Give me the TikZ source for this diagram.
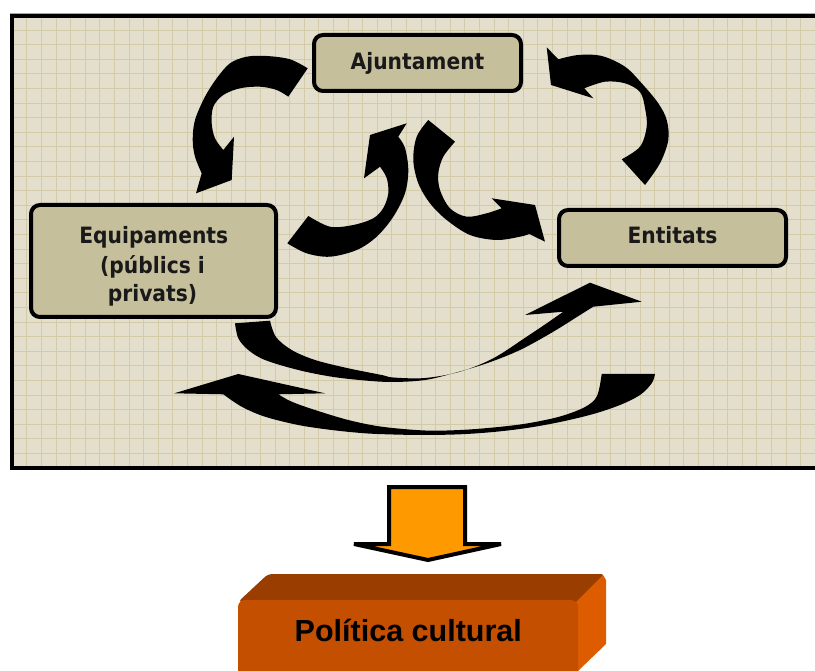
\documentclass[tikz,border=0pt]{standalone}
\usepackage{fontspec}
\newfontfamily\boxfont[FakeStretch=0.9]{DejaVu Sans}
\newfontfamily\polfont{Liberation Sans}
\definecolor{bg}{HTML}{E3DFCC}
\definecolor{gridc}{HTML}{D3CAA7}
\definecolor{boxfill}{HTML}{C6BF9B}
\definecolor{orng}{HTML}{FF9900}
\definecolor{topface}{HTML}{9A3D00}
\definecolor{frontface}{HTML}{C44F00}
\definecolor{sideface}{HTML}{DE5C00}
\begin{document}
\begin{tikzpicture}[x=1pt,y=-1pt,
  actor/.style={draw=black, line width=4pt, fill=boxfill, rounded corners=9pt, inner sep=0pt, rectangle},
  lbl/.style={font=\boxfont\bfseries\fontsize{22.5}{29.5}\selectfont, text=black!90, anchor=base, inner sep=0pt},
  blk/.style={fill=black},
  gline/.style={gridc, line width=0.75pt}]
\useasboundingbox (0,0) rectangle (815,671);
\fill[white] (0,0) rectangle (815,671);
% framed grid panel
\begin{scope}
\clip (12,16.5) rectangle (815,468);
\fill[bg] (12,16.5) rectangle (815,468);
\foreach \i in {0,...,54} \draw[gline] ({26.7+14.6*\i},16) -- ({26.7+14.6*\i},468);
\foreach \j in {0,...,30} \draw[gline] (12,{30+14.6*\j}) -- (815,{30+14.6*\j});
\end{scope}
\draw[black!35, line width=2pt] (10,13.6) -- (815,13.6);
\draw[line width=4pt] (830,16.5) -- (12,16.5) -- (12,468) -- (830,468);

% boxes
\node[actor, minimum width=207pt, minimum height=56pt] (aj) at (417.5,63) {};
\node[lbl] (ajt) at (417.5,70) {Ajuntament};
\node[actor, minimum width=227pt, minimum height=56pt] (en) at (672.5,238) {};
\node[lbl] (ent) at (672.5,243.3) {Entitats};
\node[actor, minimum width=245pt, minimum height=112pt] (eq) at (153.5,261) {};
\node[lbl] (eqt1) at (153.8,243.3) {Equipaments};
\node[lbl] (eqt2) at (152.5,273.3) {(públics i};
\node[lbl] (eqt3) at (152.5,301.7) {privats)};

% A1: Ajuntament -> Equipaments
\fill[blk] (307.7,68.3) -- plot[smooth, tension=0.55] coordinates {(307.7,68.3) (290,59.3) (266.7,56) (246.7,56.7) (230,63.3) (216.7,78.3) (205,96.7) (195,120) (192.7,140) (195,156.7) (201.7,173.3)} -- (196,193.3) -- (231.7,180) -- (234,136.7) -- plot[smooth, tension=0.55] coordinates {(223.3,150) (215,138.3) (211.7,123.3) (213.3,106.7) (223.3,95) (240,88.3) (260,86.7) (276.7,90) (288.3,96.7)} -- cycle;

% A2: Entitats -> Ajuntament
\fill[blk] (645,185) -- plot[smooth, tension=0.55] coordinates {(645,185) (660,163.3) (668.3,140) (666.7,120) (658.3,103.3) (641.7,83.3) (625,66.7) (601.7,56) (578.3,55) (558.3,59.3)} -- (546.7,47.3) -- (551,85) -- (593.3,98.3) -- plot[smooth, tension=0.55] coordinates {(584.3,88.3) (605,81.7) (625,83.3) (640,92) (645,108) (646.7,126.7) (640,146.7) (621.7,159.3)} -- cycle;

% A3: Equipaments -> Ajuntament
\fill[blk] (287.3,243.3) -- plot[smooth, tension=0.55] coordinates {(287.3,243.3) (306.7,253.3) (330,256.7) (356.7,250) (376.7,236.7) (393.3,216.7) (405,193.3) (408.3,170) (405,148) (398.3,136.7)} -- (406.7,123.3) -- (370,135) -- (364,178.3) -- plot[smooth, tension=0.55] coordinates {(380,166.7) (386.7,178) (388.3,193.3) (383.3,208) (373.3,218.3) (353.3,225) (330,226.7) (308.3,216)} -- cycle;

% A4: Ajuntament -> Entitats
\fill[blk] (428.3,120) -- plot[smooth, tension=0.55] coordinates {(428.3,120) (416.7,136.7) (413.3,160) (418.3,183.3) (430,203.3) (446.7,220) (470,235) (496.7,240) (520,236.7) (529.3,234)} -- (545,241.7) -- (535,205) -- (491.7,198.3) -- plot[smooth, tension=0.55] coordinates {(501.7,208.3) (486.7,213.3) (466.7,216.7) (450,208.3) (440,190) (438.3,173.3) (443.3,156.7) (455,141.7)} -- cycle;

% A5: Equipaments -> Entitats
\fill[blk] (270,320.7) -- (235,323.3) -- plot[smooth, tension=0.55] coordinates {(235,323.3) (238.3,338.3) (248.3,350) (265,360) (298.3,370) (331.7,376.7) (365,380.5) (393.3,382) (425,380) (453.3,373.3) (486.7,363.3) (520,350) (553.3,331.7) (580,315) (593.3,306.7)} -- (641.7,301.7) -- (590,282.7) -- (525,315) -- plot[smooth, tension=0.55] coordinates {(563.3,311.7) (546.7,323.3) (526.7,336.7) (493.3,358.3) (460,371.7) (425,378) (393.3,377.5) (381.7,375) (348.3,368.3) (315,360) (291.7,350) (276,337) (270,320.7)} -- cycle;

% A6: Entitats -> Equipaments
\fill[blk] (601.7,374) -- (655,374) -- plot[smooth, tension=0.55] coordinates {(655,374) (651.7,383.3) (640,395) (620,405) (593.3,414) (560,422) (526.7,428) (493.3,432) (460,434.3) (425,435) (393.3,434.5) (365,433.3) (331.7,430) (298.3,425) (265,416.7) (241.7,406.7) (223.3,394.3)} -- (174.3,393.3) -- (238.3,374) -- (325,393.3) -- plot[smooth, tension=0.55] coordinates {(278.3,394.3) (291.7,401.7) (315,410) (348.3,420) (381.7,426.7) (425,430.5) (460,430) (493.3,427.5) (526.7,423.5) (560,416.5) (585,407) (597,396) (601.7,374)} -- cycle;

% orange block arrow
\draw[line width=4pt, fill=orng, line join=miter, miter limit=2] (389,487) -- (465,487) -- (465,544) -- (501,544) -- (428,560) -- (354,544) -- (389,544) -- cycle;

% 3D block
\fill[topface, rounded corners=4pt] (238,602) -- (268,574) -- (605,574) -- (580,602) -- cycle;
\fill[sideface] (576,602) -- (603,575) -- (606,580) -- (606,644) -- (578,671) -- cycle;
\fill[frontface, rounded corners=7pt] (238,600) rectangle (578,695);
\node[font=\polfont\bfseries\fontsize{30.5}{36}\selectfont, anchor=base, inner sep=0pt, text=black] (pol) at (408.3,641.7) {Política cultural};
\end{tikzpicture}
\end{document}
